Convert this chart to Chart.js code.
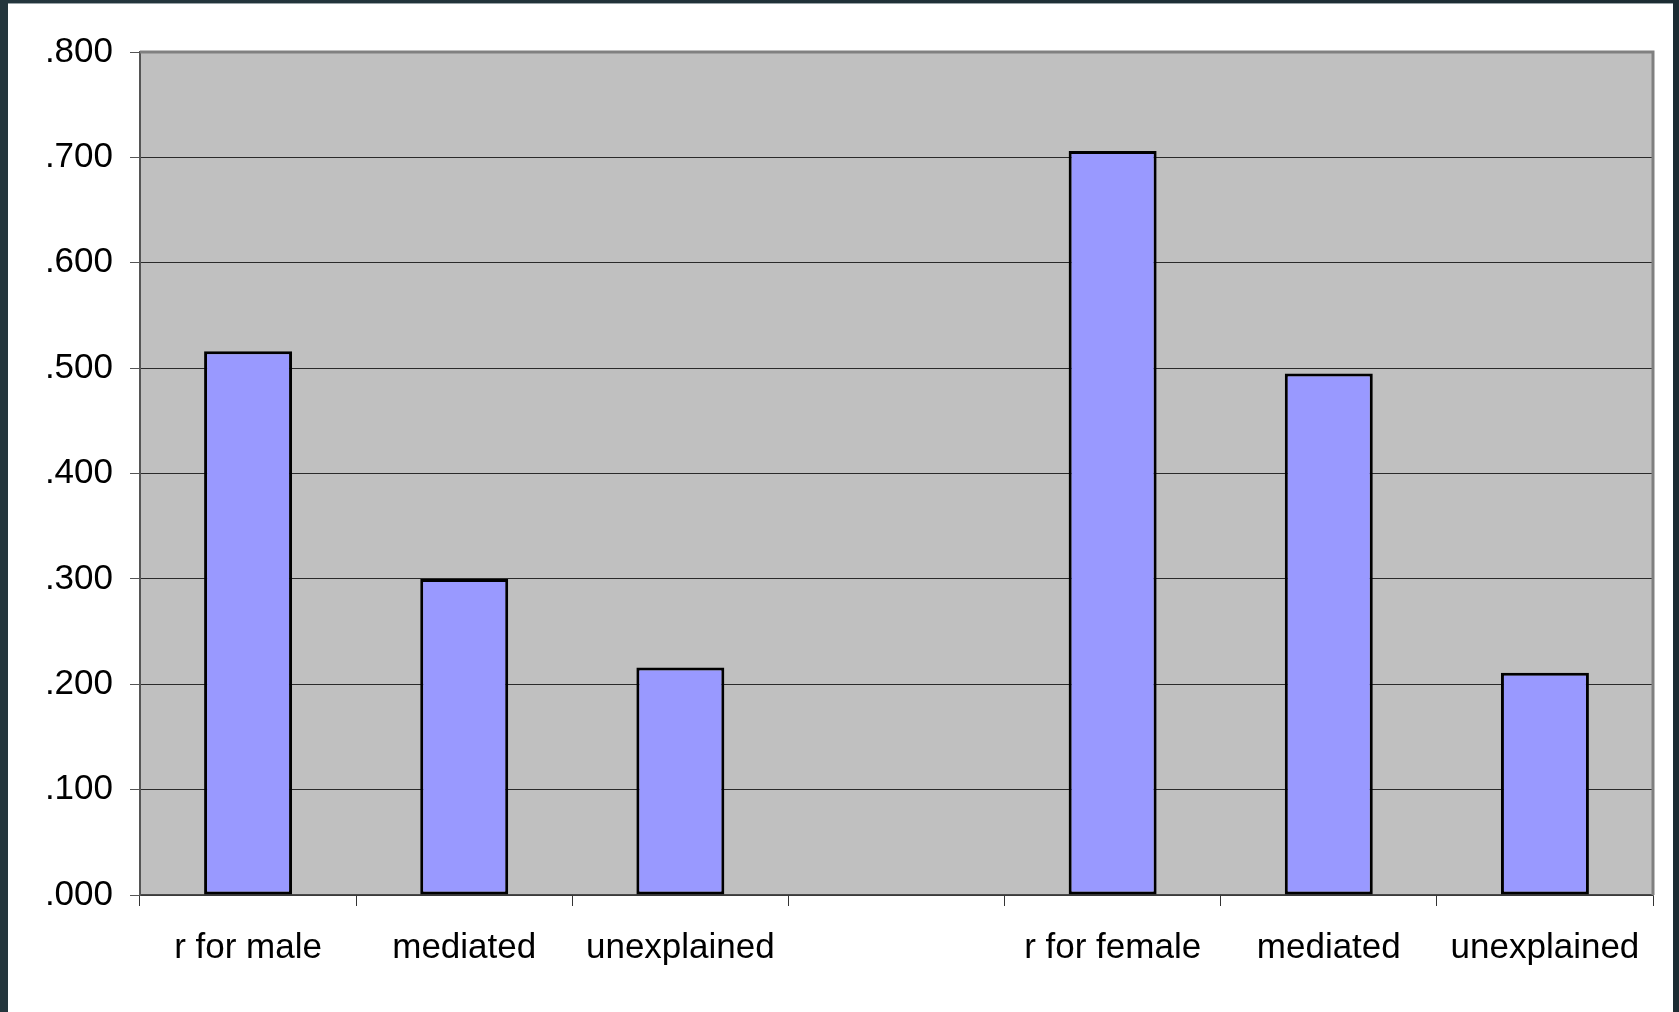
<!DOCTYPE html>
<html>
<head>
<meta charset="utf-8">
<script src="https://cdn.jsdelivr.net/npm/chart.js@4"></script>
<style>
  html, body { margin: 0; padding: 0; width: 1679px; height: 1012px; overflow: hidden;
    background: linear-gradient(90deg, #24363d 0%, #1c2c33 100%); }
  #panel { position: absolute; left: 8px; top: 4px; width: 1665px; height: 1008px; background: #ffffff;
    box-shadow: 0 -1px 0 #9aa4a8; }
  #wrap { position: absolute; left: 0; top: 0; width: 1679px; height: 1012px; }
</style>
</head>
<body>
<div id="panel"></div>
<div id="wrap"><canvas id="chart"></canvas></div>
<script>
// Correlation decomposition by sex: total r, mediated part, unexplained part
const categories = ['r for male', 'mediated', 'unexplained', '', 'r for female', 'mediated', 'unexplained'];
const values = [0.516, 0.300, 0.216, null, 0.706, 0.495, 0.211];
const yTicks = [0, 0.1, 0.2, 0.3, 0.4, 0.5, 0.6, 0.7, 0.8];

const PLOT = { left: 140, top: 52, right: 1653, bottom: 895 };

// Grey plot background plus the light frame on the top and right edges
const plotFrame = {
  id: 'plotFrame',
  beforeDraw(chart) {
    const { ctx, chartArea: a } = chart;
    ctx.save();
    ctx.fillStyle = '#c0c0c0';
    ctx.fillRect(a.left, a.top, a.right - a.left, a.bottom - a.top);
    ctx.restore();
  },
  afterDraw(chart) {
    const { ctx, chartArea: a } = chart;
    ctx.save();
    ctx.strokeStyle = '#808080';
    ctx.lineWidth = 3;
    ctx.beginPath();
    ctx.moveTo(a.left, a.top);
    ctx.lineTo(a.right, a.top);
    ctx.lineTo(a.right, a.bottom);
    ctx.stroke();
    ctx.restore();
  }
};

Chart.defaults.font.family = '"Liberation Sans", Arial, sans-serif';
Chart.defaults.color = '#000000';

new Chart(document.getElementById('chart'), {
  type: 'bar',
  data: {
    labels: categories,
    datasets: [{
      data: values,
      backgroundColor: '#9999ff',
      borderColor: '#000000',
      borderWidth: 3,
      borderSkipped: false,
      categoryPercentage: 1,
      barPercentage: 0.407
    }]
  },
  options: {
    responsive: true,
    maintainAspectRatio: false,
    devicePixelRatio: 1,
    animation: false,
    layout: { padding: { left: 0, top: PLOT.top, right: 1679 - PLOT.right, bottom: 0 } },
    plugins: { legend: { display: false }, tooltip: { enabled: false } },
    scales: {
      x: {
        type: 'category',
        offset: true,
        afterFit(scale) { scale.height = 1012 - PLOT.bottom; },
        grid: { offset: true, drawOnChartArea: false, drawTicks: true, tickLength: 11, tickColor: '#333333' },
        border: { display: true, color: '#4a4a4a', width: 1.5 },
        ticks: { font: { size: 35 }, padding: 21, maxRotation: 0, autoSkip: false }
      },
      y: {
        min: 0,
        max: 0.8,
        afterFit(scale) { scale.width = PLOT.left; },
        afterBuildTicks(scale) { scale.ticks = yTicks.map(v => ({ value: v })); },
        grid: {
          color: ctx => (ctx.tick && Math.abs(ctx.tick.value - 0.8) < 1e-9) ? 'rgba(0,0,0,0)' : '#2a2a2a',
          lineWidth: 1,
          drawTicks: true,
          tickLength: 10,
          tickColor: '#555555'
        },
        border: { display: true, color: '#555555', width: 2 },
        ticks: {
          font: { size: 35 },
          padding: 17,
          callback: v => v.toFixed(3).replace(/^0/, '')
        }
      }
    }
  },
  plugins: [plotFrame]
});
</script>
</body>
</html>
